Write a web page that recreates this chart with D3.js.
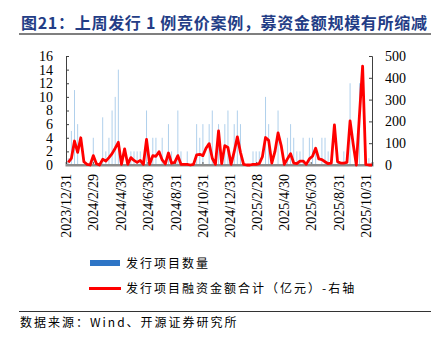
<!DOCTYPE html>
<html><head><meta charset="utf-8">
<script src="https://cdn.jsdelivr.net/npm/d3@7"></script>
<style>
html,body{margin:0;padding:0;background:#fff;}
svg{display:block;}
</style></head>
<body>
<svg id="chart" width="439" height="340"></svg>
<script>
// ---- data ----
const startDate = "2024-01-05"; // first weekly observation (Friday)
const projectCount = [1,5,11,6,0,0,0,0,4,0,0,7,2,4,8,10,14,0,0,0,2,2,2,2,0,8,0,4,4,0,4,0,6,2,0,8,2,0,2,0,0,6,4,6,0,6,8,0,6,0,6,8,0,6,8,6,0,0,0,2,2,2,0,10,6,0,0,8,0,0,4,6,4,2,2,4,0,4,4,2,0,4,4,2,0,0,2,0,2,0,12,0,0,12,0,0,1,0];
const fundAmount = [12,30,110,58,125,15,3,0,43,6,0,26,18,34,52,77,104,3,74,3,34,21,12,21,3,117,3,43,40,61,23,5,55,8,12,43,3,3,3,0,3,46,49,43,77,98,31,3,156,6,89,80,3,61,129,58,3,0,0,3,3,6,38,126,113,9,61,147,89,3,28,52,9,6,18,18,3,28,40,77,28,25,15,6,9,184,15,9,9,12,202,95,0,230,454,3,0,0];
const xTickLabels = ["2023/12/31","2024/2/29","2024/4/30","2024/6/30","2024/8/31","2024/10/31","2024/12/31","2025/2/28","2025/4/30","2025/6/30","2025/8/31","2025/10/31"];
const leftTicks = [0,2,4,6,8,10,12,14,16];
const rightTicks = [0,100,200,300,400,500];
const titleText = "图21：上周发行 1 例竞价案例，募资金额规模有所缩减";
const legendNames = ["发行项目数量","发行项目融资金额合计（亿元）-右轴"];
const sourceText = "数据来源：Wind、开源证券研究所";

// ---- build ----
const parse = d3.timeParse("%Y/%m/%d");
const d0 = d3.timeParse("%Y-%m-%d")(startDate);
const dates = projectCount.map((_, i) => d3.timeDay.offset(d0, 7 * i));
const rows = dates.map((d, i) => ({date: d, count: projectCount[i], amt: fundAmount[i]}));

const svg = d3.select("#chart");
const L = 66, R = 372, T = 56, B = 165;
const x = d3.scaleTime().domain([parse("2023/12/31"), dates[dates.length - 1]]).range([L, R]);
const yL = d3.scaleLinear().domain([0, 16]).range([B, T]);
const yR = d3.scaleLinear().domain([0, 500]).range([B, T]);

const serif = "'Liberation Serif','Times New Roman',serif";
const cjk = "'Noto Sans CJK SC','Noto Sans',sans-serif";

// title
svg.append("text").attr("x", 21).attr("y", 29)
  .attr("font-family", cjk).attr("font-weight", "bold").attr("font-size", 16)
  .attr("fill", "#233d86").attr("textLength", 406).attr("lengthAdjust", "spacing")
  .text(titleText);
svg.append("line").attr("x1", 19).attr("x2", 431).attr("y1", 34).attr("y2", 34)
  .attr("stroke", "#7f7f7f").attr("stroke-width", 2);

// bars
svg.append("g").selectAll("rect").data(rows.filter(d => d.count > 0)).join("rect")
  .attr("x", d => x(d.date) - 0.5).attr("width", 1)
  .attr("y", d => yL(d.count)).attr("height", d => yL(0) - yL(d.count))
  .attr("fill", "#b0d0ec");

// bottom axis
const xAxis = svg.append("g").attr("transform", `translate(0,${B})`)
  .call(d3.axisBottom(x).tickValues(xTickLabels.map(parse)).tickSize(-3).tickFormat(d3.timeFormat("%Y/%-m/%-d")));
xAxis.select(".domain").attr("stroke", "#8c8c8c").attr("stroke-width", 2);
xAxis.selectAll(".tick line").attr("stroke", "#555");
xAxis.selectAll(".tick text")
  .attr("font-family", serif).attr("font-size", 14).attr("fill", "#000")
  .attr("transform", "rotate(-90)").attr("text-anchor", "end")
  .attr("x", -9).attr("y", 0).attr("dy", "0.35em");

// left axis
const ax = svg.append("g").attr("transform", `translate(${L},0)`)
  .call(d3.axisLeft(yL).tickValues(leftTicks).tickSize(-3).tickPadding(13));
ax.select(".domain").attr("stroke", "#404040");
ax.selectAll(".tick line").attr("stroke", "#404040");
ax.selectAll(".tick text").attr("font-family", serif).attr("font-size", 14).attr("fill", "#000");

// right axis
const ar = svg.append("g").attr("transform", `translate(${R},0)`)
  .call(d3.axisRight(yR).tickValues(rightTicks).tickSize(-3).tickPadding(13));
ar.select(".domain").attr("stroke", "#404040");
ar.selectAll(".tick line").attr("stroke", "#404040");
ar.selectAll(".tick text").attr("font-family", serif).attr("font-size", 14).attr("fill", "#000");

// redraw baseline on top of ticks
svg.append("line").attr("x1", L).attr("x2", R).attr("y1", B).attr("y2", B)
  .attr("stroke", "#8c8c8c").attr("stroke-width", 2);

// line
svg.append("path").datum(rows)
  .attr("d", d3.line().x(d => x(d.date)).y(d => yR(d.amt)))
  .attr("fill", "none").attr("stroke", "#ff0000").attr("stroke-width", 2.8)
  .attr("stroke-linejoin", "round");

// legend
svg.append("rect").attr("x", 90).attr("y", 260).attr("width", 30).attr("height", 6).attr("fill", "#2e75c6");
svg.append("text").attr("x", 126).attr("y", 268).attr("font-family", cjk).attr("font-size", 12)
  .attr("letter-spacing", 2).attr("fill", "#000").text(legendNames[0]);
svg.append("line").attr("x1", 89).attr("x2", 121).attr("y1", 288.5).attr("y2", 288.5)
  .attr("stroke", "#ff0000").attr("stroke-width", 3);
svg.append("text").attr("x", 126).attr("y", 293).attr("font-family", cjk).attr("font-size", 12)
  .attr("letter-spacing", 2).attr("fill", "#000").text(legendNames[1]);

// footer
svg.append("line").attr("x1", 19).attr("x2", 431).attr("y1", 311.5).attr("y2", 311.5)
  .attr("stroke", "#333").attr("stroke-width", 1);
svg.append("text").attr("x", 20).attr("y", 327).attr("font-family", cjk).attr("font-size", 12)
  .attr("letter-spacing", 2).attr("fill", "#000").text(sourceText);
</script>
</body></html>
